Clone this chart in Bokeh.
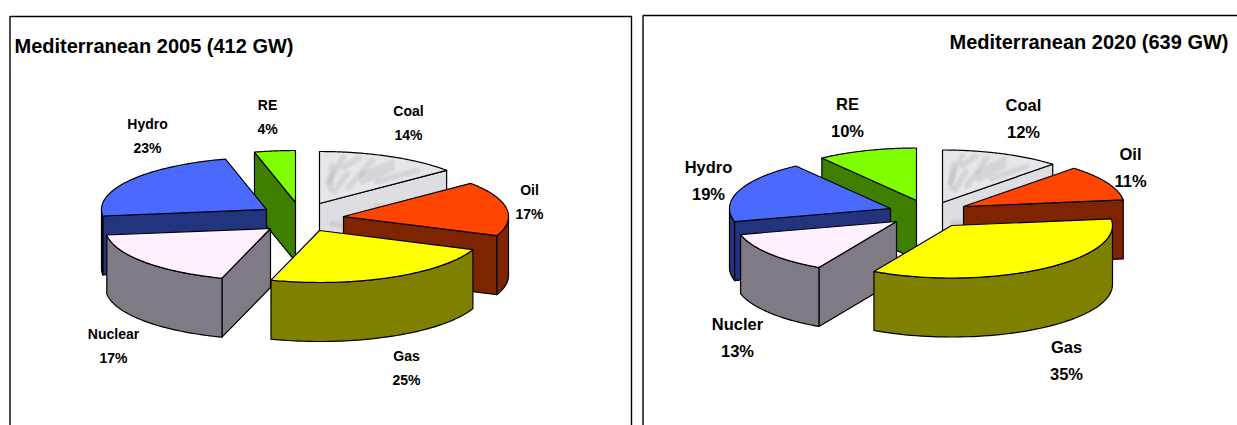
import numpy as np
from bokeh.core.properties import value
from bokeh.embed import file_html
from bokeh.models import Range1d
from bokeh.plotting import figure
from bokeh.resources import INLINE

# ---- data ----
categories = ["Coal", "Oil", "Gas", "Nuclear", "Hydro", "RE"]
labels_2005 = ["Coal", "Oil", "Gas", "Nuclear", "Hydro", "RE"]
labels_2020 = ["Coal", "Oil", "Gas", "Nucler", "Hydro", "RE"]
shares_2005 = [14, 17, 25, 17, 23, 4]
shares_2020 = [12, 11, 35, 13, 19, 10]
title_2005 = "Mediterranean 2005 (412 GW)"
title_2020 = "Mediterranean 2020 (639 GW)"

# ---- styles / layout (page pixels) ----
top_colors = {"Coal": "#e6e6ea", "Oil": "#ff4500", "Gas": "#ffff00", "Nuclear": "#fff0ff", "Hydro": "#4a69ff", "RE": "#80ff00"}
side_colors = {"Coal": "#dedee2", "Oil": "#7f2400", "Gas": "#808000", "Nuclear": "#807a84", "Hydro": "#23347f", "RE": "#3f7f00"}
draw_order = ["Coal", "RE", "Oil", "Hydro", "Nuclear", "Gas"]

layout_2005 = dict(
    a=165, b=52, d=59,
    apex={"Coal": (319, 203), "Oil": (343, 216), "Gas": (319, 230), "Nuclear": (270, 228), "Hydro": (266, 209), "RE": (295, 202)},
    labels={"Coal": (408, 110), "Oil": (529, 189), "Gas": (406, 355), "Nuclear": (113, 333), "Hydro": (147, 123), "RE": (267, 104)},
    gap=24.5, font="14px",
    end_shift={"Gas": -4.5},  # perspective of the original moves this boundary a little
)
layout_2020 = dict(
    a=161, b=52.5, d=59,
    apex={"Coal": (942, 202), "Oil": (963, 206), "Gas": (951, 225), "Nuclear": (896, 221), "Hydro": (890, 208), "RE": (916, 200)},
    labels={"Coal": (1023, 104), "Oil": (1130, 153), "Gas": (1066, 346), "Nuclear": (737, 323), "Hydro": (708, 166), "RE": (847, 103)},
    gap=27.5, font="16.5px",
    end_shift={},
)
# coal marble streaks, as fractions within the slice: (r0, t0, r1, t1)
streaks_top = [(.3, .25, .72, .12), (.35, .6, .88, .42), (.55, .78, .86, .86), (.25, .42, .6, .32),
               (.72, .24, .9, .3), (.5, .62, .8, .66), (.6, .5, .9, .58), (.4, .15, .9, .18)]
streaks_side = [(.1, .4, .35, .62), (.45, .3, .7, .55), (.75, .55, .92, .35)]

p = figure(width=1237, height=425, output_backend="svg", toolbar_location=None,
           x_range=Range1d(0, 1237), y_range=Range1d(425, 0), min_border=0,
           outline_line_color=None, background_fill_color="white")
p.axis.visible = False
p.grid.visible = False
FONT = value("Liberation Sans")


def point(apex, a, b, theta):
    return apex[0] + a * np.sin(theta), apex[1] - b * np.cos(theta)


def face(xs, ys, color, width=1.2):
    p.patch(list(xs), list(ys), fill_color=color, line_color="black", line_width=width, line_join="round")


def bold_text(x, y, text, size, align="center"):
    p.text([x], [y], text=[text], text_font=FONT, text_font_style="bold", text_font_size=size,
           text_align=align, text_baseline="middle", text_color="black")


def marble(xs, ys):
    p.line(xs, ys, line_color="#8a8a94", line_alpha=0.12, line_width=7, line_cap="round")
    p.line(xs, ys, line_color="#8a8a94", line_alpha=0.08, line_width=3, line_cap="round")


def draw_pie(shares, names, lay):
    a, b, d = lay["a"], lay["b"], lay["d"]
    edges = np.cumsum([0] + list(shares)) / sum(shares) * 2 * np.pi
    for i, key in enumerate(categories):
        edges[i + 1] += np.radians(lay["end_shift"].get(key, 0))
    spans = {k: (edges[i], edges[i + 1]) for i, k in enumerate(categories)}
    for k in draw_order:
        t0, t1 = spans[k]
        ap = lay["apex"][k]
        dark = side_colors[k]
        # radial cut faces that look toward the viewer
        for t, visible in ((t0, np.sin(t0) < -1e-6), (t1, np.sin(t1) > 1e-6)):
            if visible:
                tx, ty = point(ap, a, b, t)
                face([ap[0], tx, tx, ap[0]], [ap[1], ty, ty + d, ap[1] + d], dark)
                if k == "Coal":
                    for s0, f0, s1, f1 in streaks_side:
                        marble([ap[0] + (tx - ap[0]) * s0, ap[0] + (tx - ap[0]) * s1],
                               [ap[1] + (ty - ap[1]) * s0 + d * f0, ap[1] + (ty - ap[1]) * s1 + d * f1])
        # outer rim, front half only
        lo, hi = max(t0, np.pi / 2), min(t1, 3 * np.pi / 2)
        if hi > lo:
            th = np.linspace(lo, hi, 60)
            x, y = point(ap, a, b, th)
            face(np.r_[x, x[::-1]], np.r_[y, y[::-1] + d], dark)
        # top face
        th = np.linspace(t0, t1, 80)
        x, y = point(ap, a, b, th)
        face(np.r_[ap[0], x], np.r_[ap[1], y], top_colors[k])
        if k == "Coal":
            for r0, f0, r1, f1 in streaks_top:
                x0, y0 = point(ap, a * r0, b * r0, t0 + (t1 - t0) * f0)
                x1, y1 = point(ap, a * r1, b * r1, t0 + (t1 - t0) * f1)
                marble([x0, x1], [y0, y1])
    for name, k, share in zip(names, categories, shares):
        lx, ly = lay["labels"][k]
        bold_text(lx, ly, name, lay["font"])
        bold_text(lx, ly + lay["gap"], f"{share}%", lay["font"])


draw_pie(shares_2005, labels_2005, layout_2005)
draw_pie(shares_2020, labels_2020, layout_2020)

# panels
p.line([9.5, 9.5, 631, 631], [425, 16, 16, 425], line_color="black", line_width=1.4)
p.line([642.5, 642.5, 1237], [425, 15, 15], line_color="black", line_width=1.4)
bold_text(14, 45, title_2005, "20px", "left")
bold_text(1228, 41, title_2020, "20px", "right")

open("out.html", "w").write(file_html(p, INLINE))
